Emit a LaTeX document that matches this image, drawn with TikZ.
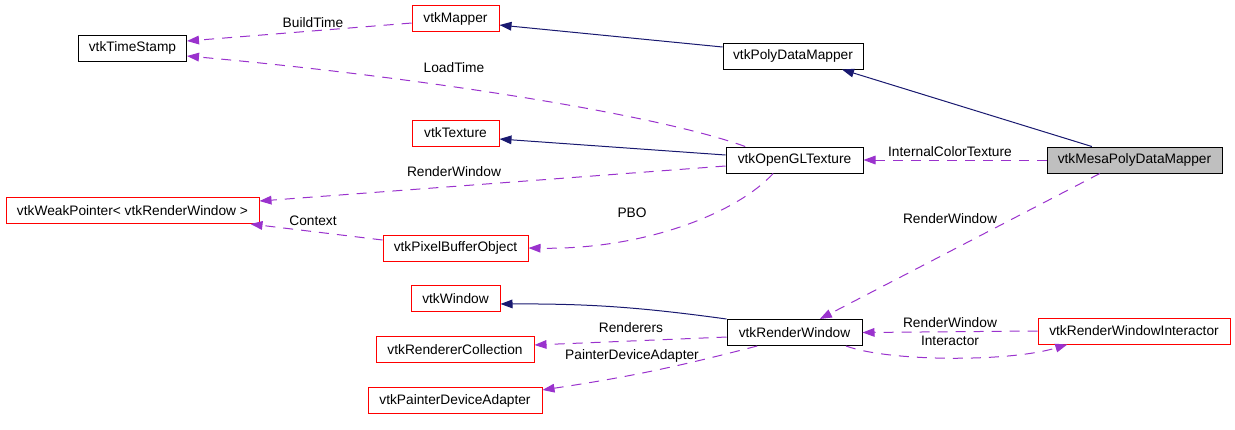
\documentclass[tikz,border=0pt]{standalone}
\usepackage{fontspec}
\setmainfont{Liberation Sans}
\usetikzlibrary{arrows.meta}

\definecolor{usage}{HTML}{9A32CD}
\definecolor{inherit}{HTML}{191970}
\definecolor{mainfill}{HTML}{BFBFBF}

\begin{document}
\begin{tikzpicture}[
  x=0.75pt, y=-0.75pt,
  font=\fontsize{10.3}{12}\selectfont,
  cls/.style={draw=black, line width=0.75pt, minimum height=19.5pt, inner sep=0pt, fill=white},
  ext/.style={cls, draw=red},
  focus/.style={cls, fill=mainfill},
  isa/.style={draw=inherit, line width=0.75pt, -{Triangle[length=9pt, width=6.5pt]}},
  uses/.style={draw=usage, line width=0.75pt, dash pattern=on 7.5pt off 6pt, -{Triangle[length=9pt, width=6.5pt]}},
  lbl/.style={inner sep=1pt}
]
\useasboundingbox (0,0) rectangle (1235,429);

% classes
\node[cls, minimum width=81pt] (stamp) at (132.5,48) {vtkTimeStamp};
\node[ext, minimum width=65.25pt] (mapper) at (455.5,18.5) {vtkMapper};
\node[cls, minimum width=105pt] (polymapper) at (793,56) {vtkPolyDataMapper};
\node[ext, minimum width=65.25pt] (texture) at (455.5,133) {vtkTexture};
\node[cls, minimum width=102.75pt] (gltexture) at (794.5,160) {vtkOpenGLTexture};
\node[focus, minimum width=131.25pt] (mesa) at (1134.5,160) {vtkMesaPolyDataMapper};
\node[ext, minimum width=189.75pt] (weakptr) at (132.5,210.5) {vtkWeakPointer< vtkRenderWindow >};
\node[ext, minimum width=108.75pt] (pbo) at (455.5,248) {vtkPixelBufferObject};
\node[ext, minimum width=66.75pt] (window) at (455.5,298.5) {vtkWindow};
\node[cls, minimum width=101.25pt] (renwin) at (794.5,332.5) {vtkRenderWindow};
\node[ext, minimum width=144pt] (interactor) at (1134,331) {vtkRenderWindowInteractor};
\node[ext, minimum width=118.5pt] (renderers) at (455,349.5) {vtkRendererCollection};
\node[ext, minimum width=130.5pt] (painter) at (455,400.5) {vtkPainterDeviceAdapter};

% inheritance
\draw[isa] ([yshift=6.75pt]polymapper.west) -- ([yshift=-4.9pt]mapper.east);
\draw[isa] ([xshift=-32pt]mesa.north) -- ([xshift=36.75pt]polymapper.south);
\draw[isa] ([yshift=3.75pt]gltexture.west) -- ([yshift=-4.5pt]texture.east);
\draw[isa] (renwin.north west) to[bend right=4] ([yshift=-4.1pt]window.east);

% usage
\draw[uses] ([yshift=-3.4pt]mapper.west) -- ([yshift=5.25pt]stamp.east);
\draw[uses] ([xshift=-37pt]gltexture.north) .. controls (650,112) and (400,75) .. ([yshift=-6pt]stamp.east);
\draw[uses] (mesa.west) -- (gltexture.east);
\draw[uses] ([yshift=-4.5pt]gltexture.west) -- ([yshift=7.1pt]weakptr.east);
\draw[uses] ([yshift=6pt]pbo.west) -- ([xshift=-6.75pt]weakptr.south east);
\draw[uses] ([xshift=-16pt]gltexture.south) .. controls (735,215) and (640,250) .. (pbo.east);
\draw[uses] ([xshift=-26pt]mesa.south) -- ([xshift=19pt]renwin.north);
\draw[uses] ([yshift=-3.4pt]renwin.west) -- ([yshift=3.4pt]renderers.east);
\draw[uses] ([xshift=-28pt]renwin.south) to[bend left=3] ([yshift=7.9pt]painter.east);
\draw[uses] (interactor.west) -- (renwin.east);
\draw[uses] ([xshift=38.6pt]renwin.south) .. controls (890,362) and (1010,362) .. ([xshift=-50pt]interactor.south);

% labels
\node[lbl] (l-build) at (313,23) {BuildTime};
\node[lbl] (l-load) at (454,68) {LoadTime};
\node[lbl] (l-internal) at (950,152) {InternalColorTexture};
\node[lbl] (l-glwin) at (454,172) {RenderWindow};
\node[lbl] (l-context) at (313,221) {Context};
\node[lbl] (l-pbo) at (632,213) {PBO};
\node[lbl] (l-mesawin) at (950,219) {RenderWindow};
\node[lbl] (l-renderers) at (631,328) {Renderers};
\node[lbl] (l-painter) at (632,356) {PainterDeviceAdapter};
\node[lbl] (l-iawin) at (950,323) {RenderWindow};
\node[lbl] (l-interactor) at (950,341) {Interactor};
\end{tikzpicture}
\end{document}
